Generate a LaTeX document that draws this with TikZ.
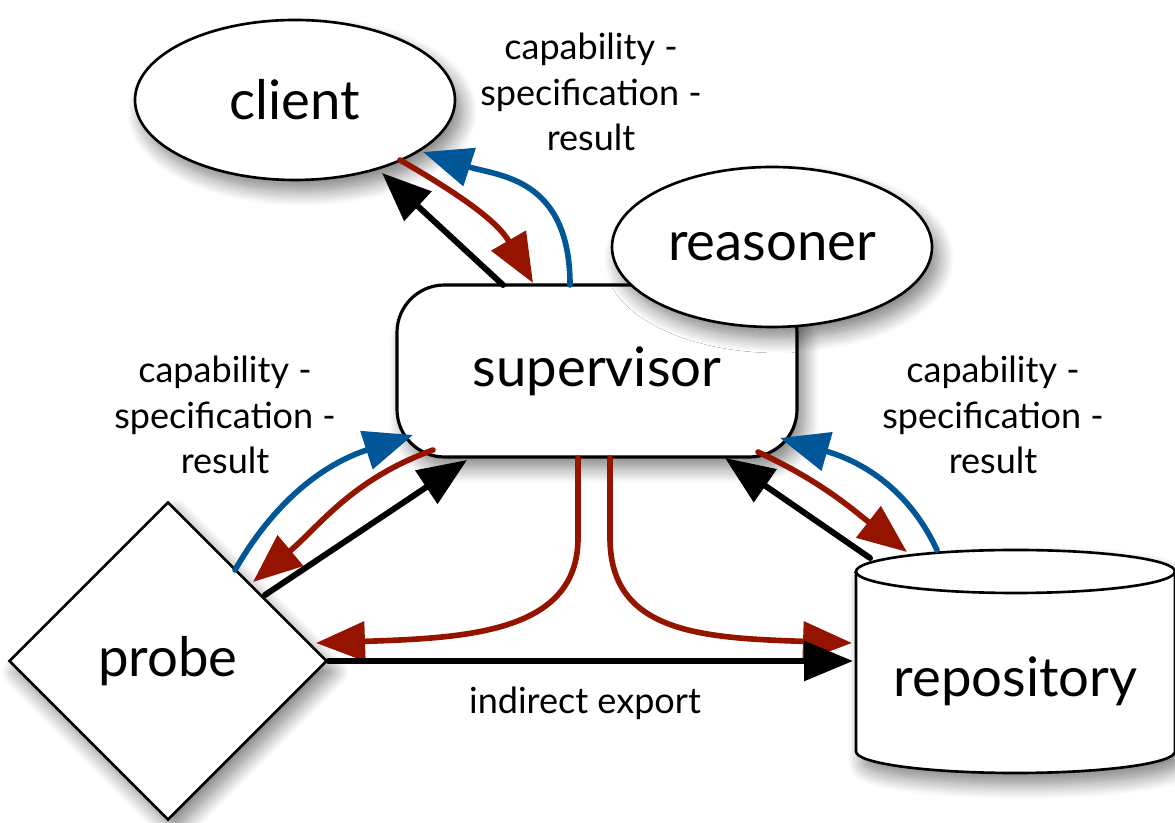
\documentclass[tikz,border=0pt]{standalone}
\usepackage{fontspec}
\setmainfont{Lato}
\usetikzlibrary{arrows.meta,shapes.geometric,shadows.blur}

\begin{document}
\begin{tikzpicture}
  [line cap=round,
   % Styles
   shape font/.style={font=\fontsize{31}{37}\selectfont},
   info text/.style={align=center,font=\fontsize{20.5}{26}\selectfont},
   soft shadow/.style={blur shadow={shadow xshift=0.14cm,shadow yshift=-0.22cm,
       shadow blur radius=0.3cm,shadow blur steps=12,shadow opacity=50}},
   thing/.style={draw,fill=white,line width=1.5pt,shape font,soft shadow},
   agent/.style={thing,ellipse,minimum width=6.4cm,minimum height=3.2cm},
   plain flow/.style={black,line width=3.4pt,-{Triangle[length=0.98cm,width=0.78cm]}},
   request/.style={plain flow,line width=3.2pt,requestcolor},
   reply/.style={plain flow,line width=3.2pt,replycolor}]

  % Colors
  \definecolor{requestcolor}{RGB}{148,20,0}
  \definecolor{replycolor}{RGB}{0,86,150}

  \useasboundingbox (0,0) rectangle (23.5,16.46);

  % The nodes
  \node[thing,rectangle,rounded corners=0.95cm,line width=1.8pt,
    minimum width=8cm,minimum height=3.44cm] (supervisor) at (11.94,9.04) {supervisor};
  \node[agent] (reasoner) at (15.44,11.52) {reasoner};
  \node[agent] (client) at (5.9,14.46) {client};
  \node[thing,diamond,aspect=1,inner sep=0pt,
    minimum width=6.36cm,minimum height=6.36cm] (probe) at (3.36,3.24) {probe};

  % The repository drum
  \filldraw[fill=white,line width=1.5pt,soft shadow] (17.12,5.03) -- (17.12,1.43)
    arc[start angle=180,end angle=360,x radius=3.19cm,y radius=0.43cm] -- (23.5,5.03)
    arc[start angle=0,end angle=180,x radius=3.19cm,y radius=0.43cm] -- cycle;
  \draw[line width=1.5pt] (17.12,5.03)
    arc[start angle=180,end angle=360,x radius=3.19cm,y radius=0.43cm];
  \node[shape font] (repository) at (20.31,2.84) {repository};

  % Labels
  \foreach \where/\name in {{11.82,14.62}/clientinfo,{4.5,8.16}/probeinfo,{19.86,8.16}/repositoryinfo}
    \node[info text] (\name) at (\where) {capability -\\specification -\\result};
  \node[info text] (exportinfo) at (11.7,2.4) {indirect export};

  % supervisor and client
  \draw[plain flow] ([shift={(-1.88,1.72)}]supervisor.center) -- ([shift={(1.74,-1.46)}]client.center);
  \draw[request] ([shift={(2.1,-1.2)}]client.center) to[out=-30,in=120]
    ([shift={(-1.28,1.76)}]supervisor.center);
  \draw[reply] ([shift={(-0.54,1.72)}]supervisor.center) to[out=90,in=-18,out looseness=1.4]
    ([shift={(2.56,-1.04)}]client.center);

  % supervisor and probe
  \draw[plain flow] ([shift={(1.94,1.32)}]probe.center) -- ([shift={(-2.6,-1.78)}]supervisor.center);
  \draw[request] ([shift={(-3.28,-1.58)}]supervisor.center) to[out=200,in=40]
    ([shift={(1.7,1.58)}]probe.center);
  \draw[reply] ([shift={(1.34,1.82)}]probe.center) to[out=60,in=198]
    ([shift={(-3.68,-1.28)}]supervisor.center);

  % supervisor and repository
  \draw[plain flow] ([shift={(-2.91,2.46)}]repository.center) -- ([shift={(2.56,-1.74)}]supervisor.center);
  \draw[request] ([shift={(3.22,-1.62)}]supervisor.center) to[out=-25,in=142]
    ([shift={(-2.17,2.58)}]repository.center);
  \draw[reply] ([shift={(-1.57,2.62)}]repository.center) to[out=115,in=-16]
    ([shift={(3.66,-1.34)}]supervisor.center);

  % exports
  \draw[request] ([shift={(-0.38,-1.74)}]supervisor.center) -- ++(0,-1.6)
    .. controls +(0,-1.9) and +(3,0.1) .. ([shift={(2.96,0.36)}]probe.center);
  \draw[request] ([shift={(0.26,-1.74)}]supervisor.center) -- ++(0,-1.6)
    .. controls +(0,-1.9) and +(-3,0.1) .. ([shift={(-3.27,0.76)}]repository.center);
  \draw[plain flow] (probe.east) -- ([shift={(-3.25,0.4)}]repository.center);
\end{tikzpicture}
\end{document}
